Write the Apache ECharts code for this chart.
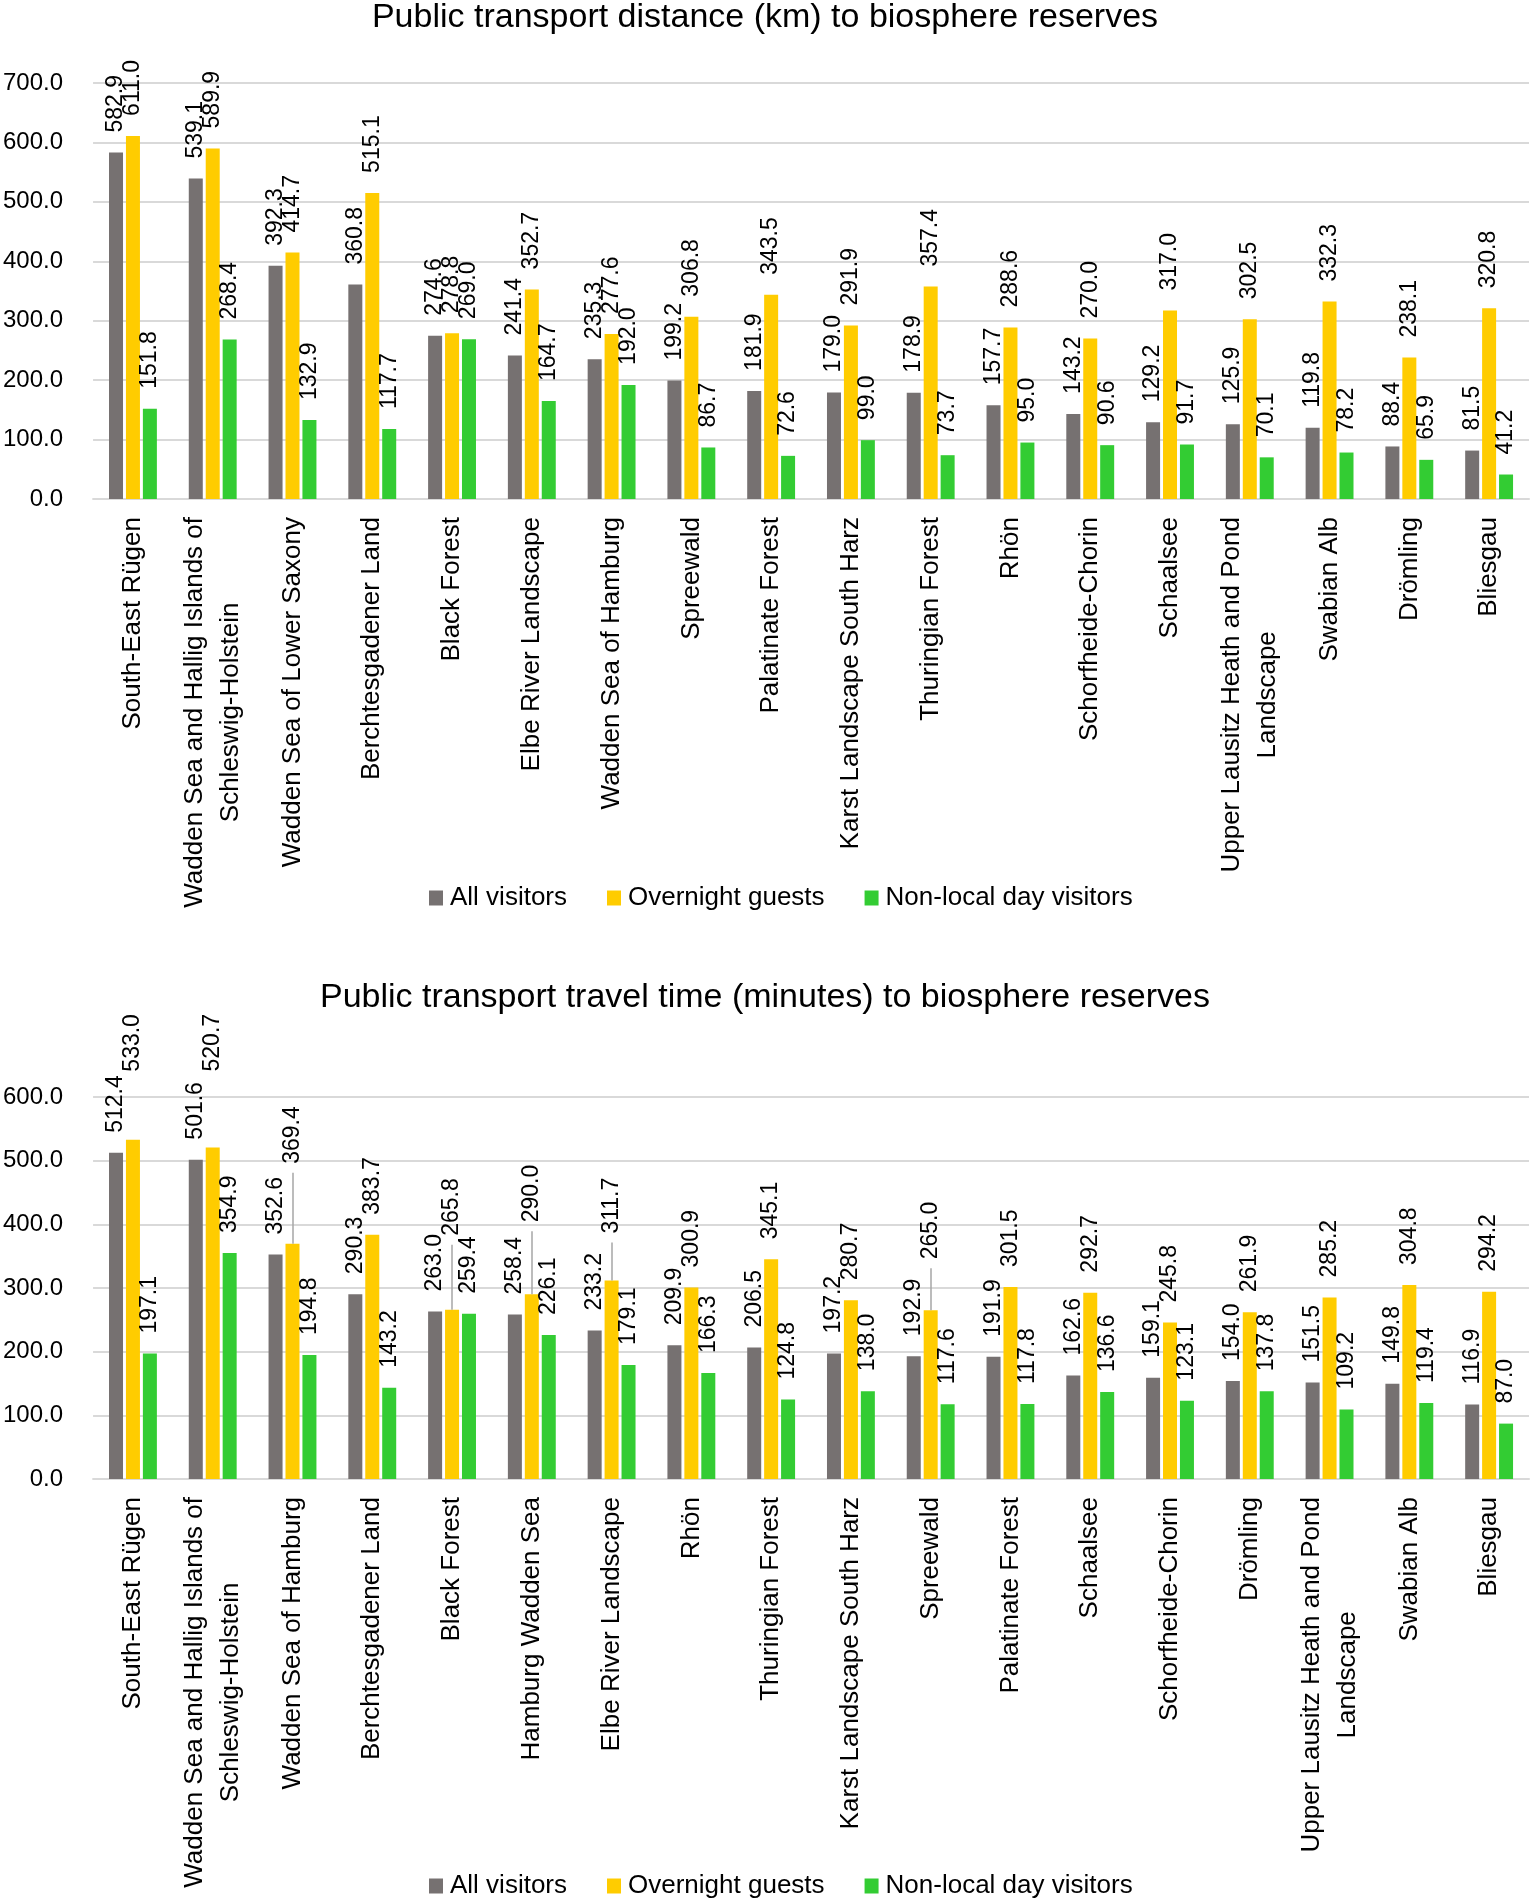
<!DOCTYPE html>
<html>
<head>
<meta charset="utf-8">
<script src="https://cdn.jsdelivr.net/npm/echarts@6/dist/echarts.min.js"></script>
<style>
  html, body { margin: 0; padding: 0; background: #fff; }
  #chart { width: 1530px; height: 1900px; }
</style>
</head>
<body>
<div id="chart"></div>
<script>
// series names
const seriesNames = ['All visitors', 'Overnight guests', 'Non-local day visitors'];

// chart 1: distance (km)
const distCategories = ['South-East Rügen', 'Wadden Sea and Hallig Islands of\nSchleswig-Holstein', 'Wadden Sea of Lower Saxony',
  'Berchtesgadener Land', 'Black Forest', 'Elbe River Landscape', 'Wadden Sea of Hamburg', 'Spreewald', 'Palatinate Forest',
  'Karst Landscape South Harz', 'Thuringian Forest', 'Rhön', 'Schorfheide-Chorin', 'Schaalsee',
  'Upper Lausitz Heath and Pond\nLandscape', 'Swabian Alb', 'Drömling', 'Bliesgau'];
const distAll = [582.9, 539.1, 392.3, 360.8, 274.6, 241.4, 235.3, 199.2, 181.9, 179.0, 178.9, 157.7, 143.2, 129.2, 125.9, 119.8, 88.4, 81.5];
const distOvernight = [611.0, 589.9, 414.7, 515.1, 278.8, 352.7, 277.6, 306.8, 343.5, 291.9, 357.4, 288.6, 270.0, 317.0, 302.5, 332.3, 238.1, 320.8];
const distDay = [151.8, 268.4, 132.9, 117.7, 269.0, 164.7, 192.0, 86.7, 72.6, 99.0, 73.7, 95.0, 90.6, 91.7, 70.1, 78.2, 65.9, 41.2];

// chart 2: travel time (minutes)
const timeCategories = ['South-East Rügen', 'Wadden Sea and Hallig Islands of\nSchleswig-Holstein', 'Wadden Sea of Hamburg',
  'Berchtesgadener Land', 'Black Forest', 'Hamburg Wadden Sea', 'Elbe River Landscape', 'Rhön', 'Thuringian Forest',
  'Karst Landscape South Harz', 'Spreewald', 'Palatinate Forest', 'Schaalsee', 'Schorfheide-Chorin', 'Drömling',
  'Upper Lausitz Heath and Pond\nLandscape', 'Swabian Alb', 'Bliesgau'];
const timeAll = [512.4, 501.6, 352.6, 290.3, 263.0, 258.4, 233.2, 209.9, 206.5, 197.2, 192.9, 191.9, 162.6, 159.1, 154.0, 151.5, 149.8, 116.9];
const timeOvernight = [533.0, 520.7, 369.4, 383.7, 265.8, 290.0, 311.7, 300.9, 345.1, 280.7, 265.0, 301.5, 292.7, 245.8, 261.9, 285.2, 304.8, 294.2];
const timeDay = [197.1, 354.9, 194.8, 143.2, 259.4, 226.1, 179.1, 166.3, 124.8, 138.0, 117.6, 117.8, 136.6, 123.1, 137.8, 109.2, 119.4, 87.0];

// labels that were dragged up in the original (extra px), index -> lift
const timeOvernightLift = { 0: 48, 1: 56, 2: 60, 4: 54, 5: 52, 6: 27, 10: 31 };

const colors = ['#767171', '#FFCC00', '#33CC33'];
const font = '"Liberation Sans", Arial, sans-serif';
const gridColor = '#d9d9d9';
const labelDistance = 20;
const time2px = 382 / 600; // px per minute in the lower grid (for leader line length)

const myChart = echarts.init(document.getElementById('chart'));

const xAxisFor = (cats, gridIndex) => ({
  type: 'category',
  gridIndex: gridIndex,
  data: cats,
  axisTick: { show: false },
  axisLine: { lineStyle: { color: gridColor, width: 2 } },
  axisLabel: {
    interval: 0,
    rotate: 90,
    margin: 18,
    color: '#000',
    fontFamily: font,
    fontSize: 26,
    lineHeight: 36,
    formatter: (v) => v.split('\n').map(s => '{c|' + s + '}').join('\n'),
    rich: {
      c: { align: 'center', fontFamily: font, fontSize: 26, lineHeight: 36, color: '#000' }
    }
  }
});

const yAxisFor = (max, gridIndex) => ({
  type: 'value',
  gridIndex: gridIndex,
  min: 0,
  max: max,
  interval: 100,
  axisLine: { show: false },
  axisTick: { show: false },
  splitLine: { lineStyle: { color: gridColor, width: 2 } },
  axisLabel: {
    margin: 30,
    color: '#000',
    fontFamily: font,
    fontSize: 24,
    formatter: (v) => v.toFixed(1)
  }
});

const barSeries = (name, data, idx, axisIndex, extra) => Object.assign({
  name: name,
  type: 'bar',
  xAxisIndex: axisIndex,
  yAxisIndex: axisIndex,
  barWidth: 14,
  barGap: '21%',
  itemStyle: { color: colors[idx] },
  label: {
    show: true,
    position: 'top',
    rotate: 90,
    align: 'left',
    verticalAlign: 'middle',
    distance: labelDistance,
    color: '#000',
    fontFamily: font,
    fontSize: 23,
    formatter: (p) => p.value.toFixed(1)
  },
  emphasis: { disabled: true },
  data: data
}, extra || {});

const legendFor = (top) => ({
  top: top,
  left: 424,
  itemWidth: 14,
  itemHeight: 15,
  itemGap: 40,
  icon: 'rect',
  textStyle: { color: '#000', fontFamily: font, fontSize: 26, padding: [0, 0, 0, 2] },
  data: seriesNames
});

// overnight (time) with some labels lifted and a leader line
const timeOvernightData = timeOvernight.map((v, i) =>
  timeOvernightLift[i] ? { value: v, label: { distance: labelDistance + timeOvernightLift[i] } } : v);
const leaderLines = Object.keys(timeOvernightLift).map((k) => {
  const i = Number(k);
  const v = timeOvernight[i];
  return [{ coord: [i, v] }, { coord: [i, v + (timeOvernightLift[i] + 11) / time2px] }];
});

const options = {
  animation: false,
  title: [{
    text: 'Public transport distance (km) to biosphere reserves',
    left: 'center',
    top: -4,
    textStyle: { color: '#000', fontFamily: font, fontSize: 34, fontWeight: 'normal' }
  }, {
    text: 'Public transport travel time (minutes) to biosphere reserves',
    left: 'center',
    top: 976,
    textStyle: { color: '#000', fontFamily: font, fontSize: 34, fontWeight: 'normal' }
  }],
  legend: [legendFor(880), legendFor(1868)],
  grid: [
    { left: 93, right: 1, top: 83, height: 416 },
    { left: 93, right: 1, top: 1097, height: 382 }
  ],
  xAxis: [xAxisFor(distCategories, 0), xAxisFor(timeCategories, 1)],
  yAxis: [yAxisFor(700, 0), yAxisFor(600, 1)],
  series: [
    barSeries(seriesNames[0], distAll, 0, 0),
    barSeries(seriesNames[1], distOvernight, 1, 0),
    barSeries(seriesNames[2], distDay, 2, 0),
    barSeries(seriesNames[0], timeAll, 0, 1),
    barSeries(seriesNames[1], timeOvernightData, 1, 1, {
      markLine: {
        silent: true,
        symbol: 'none',
        label: { show: false },
        lineStyle: { color: '#a6a6a6', width: 1.5, type: 'solid' },
        data: leaderLines
      }
    }),
    barSeries(seriesNames[2], timeDay, 2, 1)
  ]
};

myChart.setOption(options);
</script>
</body>
</html>
